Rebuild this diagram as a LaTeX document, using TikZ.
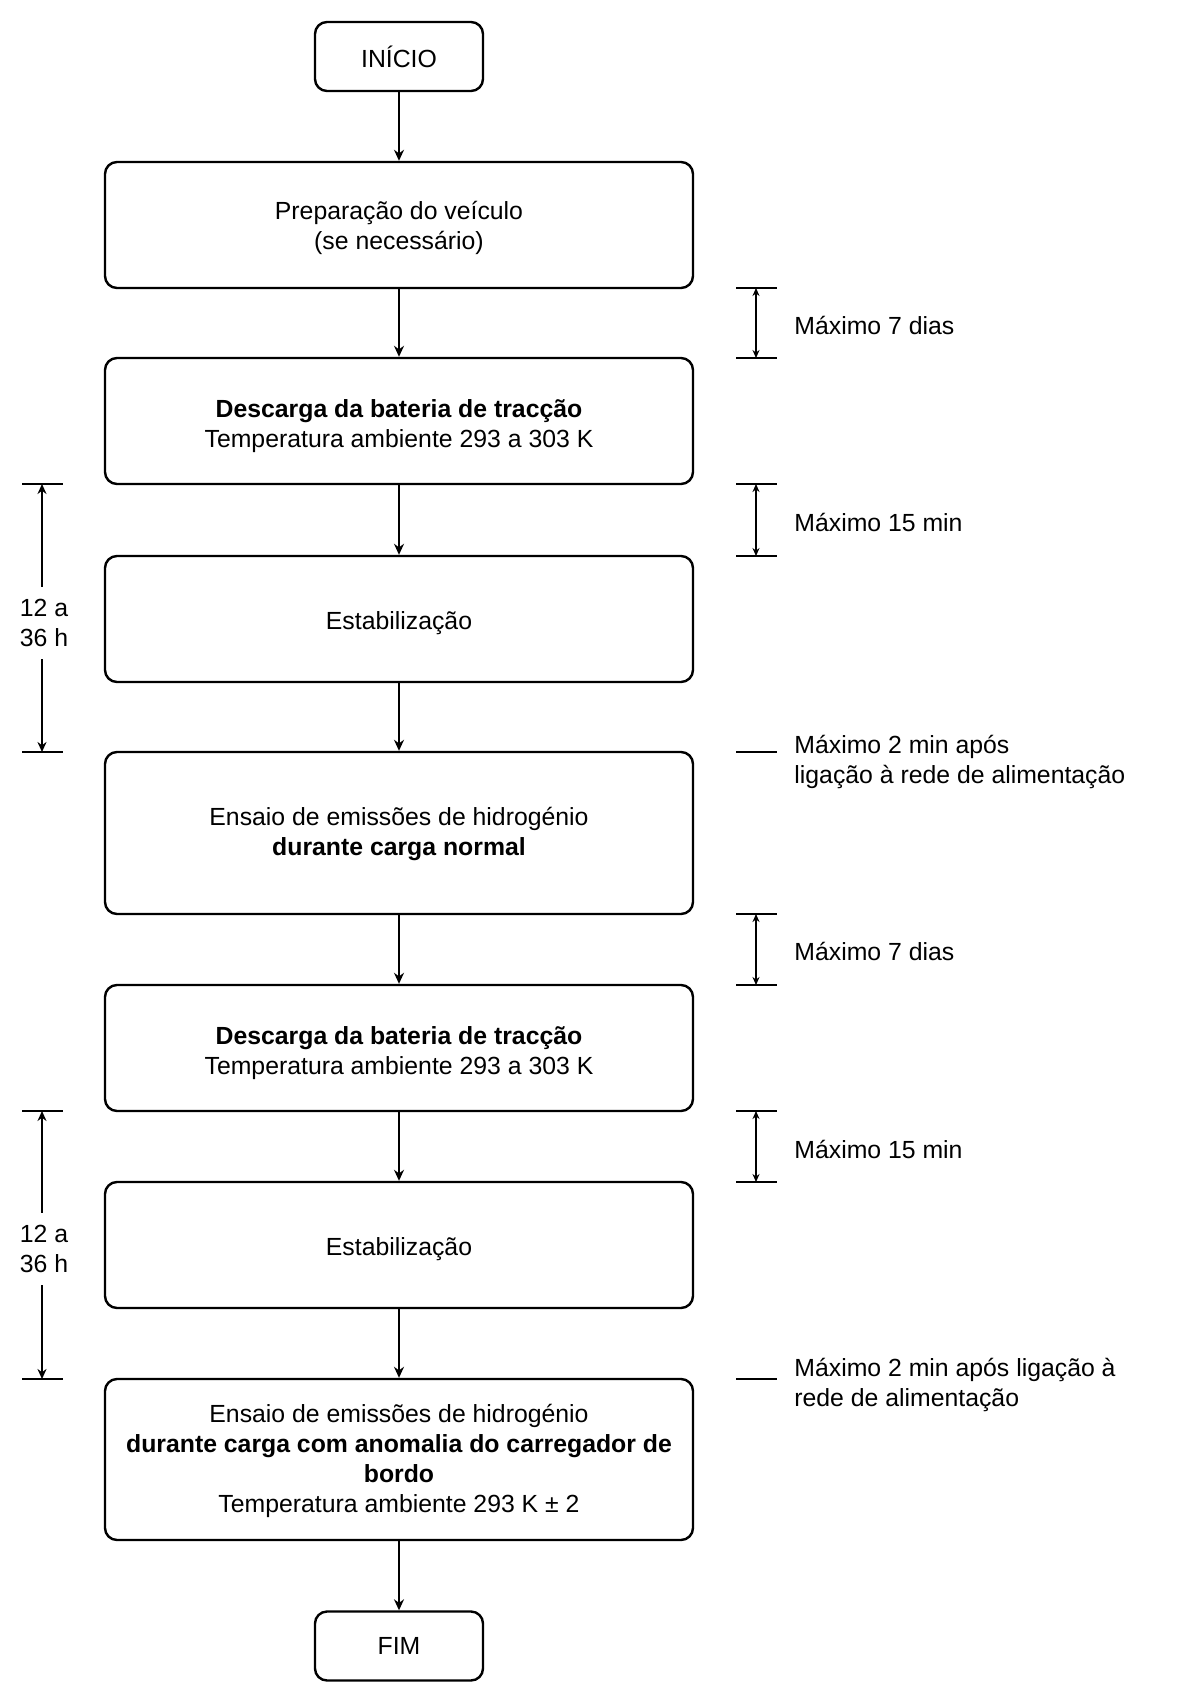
\documentclass[tikz,border=0pt]{standalone}
\usepackage{fontspec}
\setmainfont{Liberation Sans}
\usetikzlibrary{arrows.meta}
\newcommand{\txtdown}[2]{\raisebox{-#1}[\height][\depth]{\begin{tabular}{@{}c@{}}#2\end{tabular}}}
\begin{document}
\begin{tikzpicture}[x=0.5pt,y=-0.5pt,
  every node/.style={font=\fontsize{12.4pt}{15pt}\selectfont},
  proc/.style={draw, line width=1.2pt, rounded corners=6pt, minimum width=294pt, minimum height=63pt, inner sep=0pt, align=center},
  term/.style={draw, line width=1.2pt, rounded corners=6pt, minimum width=84pt, minimum height=34.5pt, inner sep=0pt, align=center},
  flow/.style={line width=1.2pt, -{Stealth[length=5.5pt,width=5pt]}},
  tick/.style={line width=1.2pt},
  span/.style={line width=0.8pt, {Stealth[length=4pt,width=3.5pt]}-{Stealth[length=4pt,width=3.5pt]}},
  half/.style={line width=1.1pt, -{Stealth[length=5pt,width=4.5pt]}},
  note/.style={anchor=west, align=left, inner sep=0pt}
]
\useasboundingbox (0,0) rectangle (1197,1701);

% main boxes
\node[term] (start) at (399,56.5) {INÍCIO};
\node[proc] (b1) at (399,225) {\txtdown{1.6pt}{Preparação do veículo\\(se necessário)}};
\node[proc] (b2) at (399,421) {\txtdown{2.6pt}{\textbf{Descarga da bateria de tracção}\\Temperatura ambiente 293 a 303 K}};
\node[proc] (b3) at (399,619) {\txtdown{2.2pt}{Estabilização}};
\node[proc, minimum height=81pt] (b4) at (399,833) {\txtdown{0.5pt}{Ensaio de emissões de hidrogénio\\\textbf{durante carga normal}}};
\node[proc] (b5) at (399,1048) {\txtdown{2.6pt}{\textbf{Descarga da bateria de tracção}\\Temperatura ambiente 293 a 303 K}};
\node[proc] (b6) at (399,1245) {\txtdown{2.2pt}{Estabilização}};
\node[proc, minimum height=80.5pt] (b7) at (399,1459.5) {\txtdown{1pt}{Ensaio de emissões de hidrogénio\\\textbf{durante carga com anomalia do carregador de}\\\textbf{bordo}\\Temperatura ambiente 293 K ± 2}};
\node[term] (end) at (399,1646) {\txtdown{1pt}{FIM}};

\draw[flow] (start) -- (b1);
\draw[flow] (b1) -- (b2);
\draw[flow] (b2) -- (b3);
\draw[flow] (b3) -- (b4);
\draw[flow] (b4) -- (b5);
\draw[flow] (b5) -- (b6);
\draw[flow] (b6) -- (b7);
\draw[flow] (b7) -- (end);

% right annotations
\foreach \n/\y in {r1/288, r2/358, r3/484, r4/556, r5/914, r6/985, r7/1111, r8/1182}{
  \coordinate (\n a) at (736,\y);
  \coordinate (\n b) at (777,\y);
  \coordinate (\n) at (756,\y);
  \draw[tick] (\n a) -- (\n b);
}
\coordinate (s1a) at (736,752); \coordinate (s1b) at (777,752);
\coordinate (s2a) at (736,1379); \coordinate (s2b) at (777,1379);
\draw[line width=0.8pt] (s1a) -- (s1b);
\draw[line width=0.8pt] (s2a) -- (s2b);

\draw[span] (r1) -- (r2);
\draw[span] (r3) -- (r4);
\draw[span] (r5) -- (r6);
\draw[span] (r7) -- (r8);

\node[note] (n1) at (794,325) {Máximo 7 dias};
\node[note] (n2) at (794,522) {Máximo 15 min};
\node[note] (n3) at (794,762) {Máximo 2 min após\\ligação à rede de alimentação};
\node[note] (n4) at (794,951) {Máximo 7 dias};
\node[note] (n5) at (794,1149) {Máximo 15 min};
\node[note] (n6) at (794,1385) {Máximo 2 min após ligação à\\rede de alimentação};

% left annotations
\foreach \n/\y in {l1/484, l2/752, l3/1111, l4/1379}{
  \coordinate (\n a) at (22,\y);
  \coordinate (\n b) at (63,\y);
  \coordinate (\n) at (42,\y);
  \draw[tick] (\n a) -- (\n b);
}
\node[align=center, inner sep=0pt, minimum height=36pt] (t1) at (44,623) {12 a\\36 h};
\node[align=center, inner sep=0pt, minimum height=36pt] (t2) at (44,1249) {12 a\\36 h};
\draw[half] (t1.north -| l1) -- (l1);
\draw[half] (t1.south -| l2) -- (l2);
\draw[half] (t2.north -| l3) -- (l3);
\draw[half] (t2.south -| l4) -- (l4);
\end{tikzpicture}
\end{document}
